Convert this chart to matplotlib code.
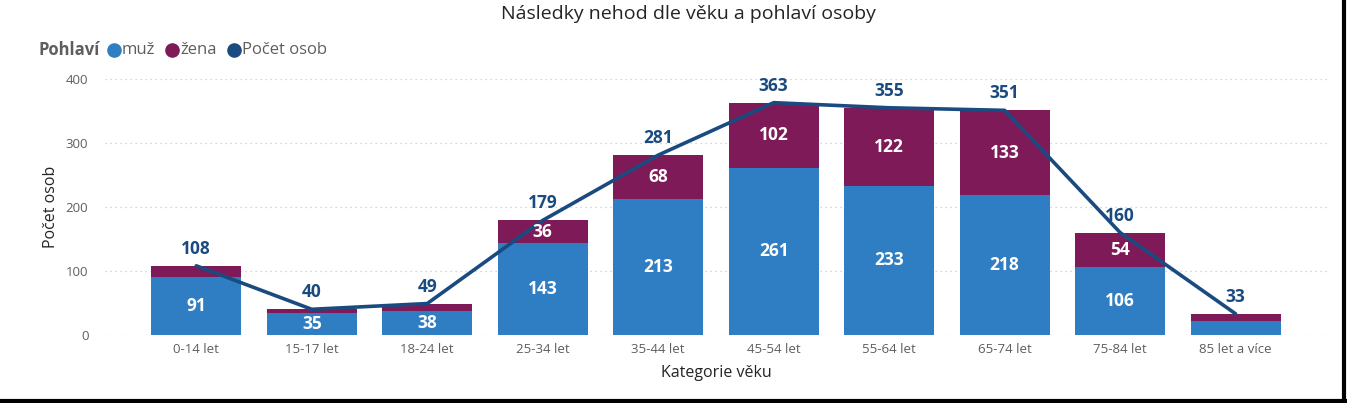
import matplotlib.pyplot as plt
import numpy as np
from matplotlib.lines import Line2D

categories = ["0-14 let", "15-17 let", "18-24 let", "25-34 let", "35-44 let",
              "45-54 let", "55-64 let", "65-74 let", "75-84 let", "85 let a více"]
muz = [91, 35, 38, 143, 213, 261, 233, 218, 106, 22]
zena = [17, 5, 11, 36, 68, 102, 122, 133, 54, 11]
pocet = [108, 40, 49, 179, 281, 363, 355, 351, 160, 33]
y_ticks = [0, 100, 200, 300, 400]
legend_labels = ["muž", "žena", "Počet osob"]

C_MUZ = "#2F7DC2"
C_ZENA = "#7E1A58"
C_LINE = "#1A4B80"
C_GREY = "#605E5C"

W, H = 1347, 403
plt.rcParams["font.family"] = ["Open Sans", "DejaVu Sans"]

fig = plt.figure(figsize=(W / 100, H / 100), dpi=100)
ax = fig.add_axes([0.078, 0.169, 0.907, 0.635])

x = np.arange(len(categories))
width = 0.78
ax.bar(x, muz, width, color=C_MUZ, zorder=2)
ax.bar(x, zena, width, bottom=muz, color=C_ZENA, zorder=2)
ax.plot(x, pocet, color=C_LINE, linewidth=2.6, zorder=3, solid_capstyle="round")

for i in range(len(categories)):
    if muz[i] >= 30:
        ax.text(x[i], muz[i] / 2, str(muz[i]), ha="center", va="center",
                color="white", fontsize=12.5, fontweight="bold", zorder=4)
    if zena[i] >= 30:
        ax.text(x[i], muz[i] + zena[i] / 2, str(zena[i]), ha="center", va="center",
                color="white", fontsize=12.5, fontweight="bold", zorder=4)
    ax.annotate(str(pocet[i]), (x[i], pocet[i]), xytext=(0, 17), textcoords="offset pixels",
                ha="center", va="center", color=C_LINE, fontsize=12.5,
                fontweight="bold", zorder=5, annotation_clip=False)

ax.set_xlim(-0.79, 9.79)
ax.set_ylim(0, 400)
ax.set_yticks(y_ticks)
ax.set_xticks(x)
ax.set_xticklabels(categories)
ax.tick_params(axis="both", length=0, colors=C_GREY, labelsize=9.5)
ax.tick_params(axis="y", pad=12)
ax.tick_params(axis="x", pad=6)
for s in ax.spines.values():
    s.set_visible(False)
ax.grid(axis="y", color="#C8C8C8", linestyle=(0, (1, 3)), linewidth=0.9, zorder=0)

ax.set_ylabel("Počet osob", fontsize=11.5, color="#252423", labelpad=5)
ax.set_xlabel("Kategorie věku", fontsize=11.5, color="#252423", labelpad=6)

fig.text(0.511, 0.965, "Následky nehod dle věku a pohlaví osoby", ha="center",
         va="center", fontsize=14, color="#252423")

# legend, laid out by hand like the Power BI header row
ly = 1 - 50 / H
fig.text(38 / W, ly, "Pohlaví", ha="left", va="center", fontsize=12,
         fontweight="bold", color=C_GREY)
legend_x = [114, 172, 234]
for px, lab, col in zip(legend_x, legend_labels, (C_MUZ, C_ZENA, C_LINE)):
    fig.add_artist(Line2D([px / W], [ly], transform=fig.transFigure, marker="o",
                          markersize=9.5, color=col, linestyle=""))
    fig.text((px + 8) / W, ly, lab, ha="left", va="center", fontsize=12,
             color=C_GREY)

# frame edges visible in the screenshot
fig.add_artist(Line2D([0, 1], [0.004, 0.004], transform=fig.transFigure,
                      color="black", linewidth=3))
fig.add_artist(Line2D([0.9975, 0.9975], [0, 1], transform=fig.transFigure,
                      color="black", linewidth=3))

fig.savefig("out.png", dpi=100)
